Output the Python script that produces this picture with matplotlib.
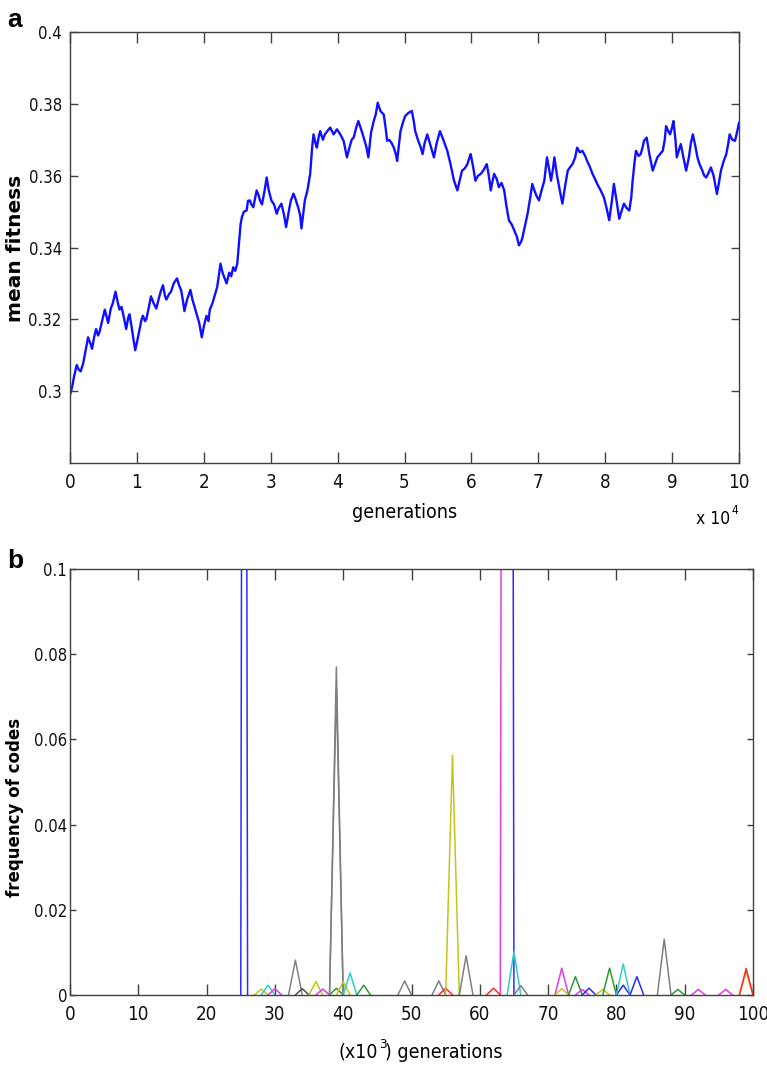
import numpy as np
import matplotlib
matplotlib.use("Agg")
import matplotlib.pyplot as plt
from matplotlib import font_manager as fm

# ---------------- data: panel a (mean fitness) ----------------
gen_e4 = [0.00, 0.03, 0.06, 0.10, 0.13, 0.16, 0.20, 0.24, 0.27, 0.30, 0.33, 0.36, 0.39, 0.42, 0.44,
          0.48, 0.52, 0.55, 0.57, 0.61, 0.64, 0.68, 0.71, 0.74, 0.77, 0.80, 0.84, 0.87, 0.89, 0.92,
          0.94, 0.975, 1.00, 1.04, 1.07, 1.09, 1.12, 1.14, 1.18, 1.21, 1.25, 1.29, 1.33, 1.36, 1.39,
          1.42, 1.44, 1.48, 1.51, 1.55, 1.60, 1.63, 1.66, 1.69, 1.71, 1.75, 1.80, 1.83, 1.86, 1.90,
          1.93, 1.97, 2.00, 2.04, 2.07, 2.09, 2.13, 2.16, 2.20, 2.25, 2.28, 2.31, 2.34, 2.38, 2.41,
          2.44, 2.47, 2.50, 2.53, 2.55, 2.57, 2.60, 2.64, 2.66, 2.69, 2.71, 2.74, 2.77, 2.79, 2.82,
          2.84, 2.87, 2.91, 2.94, 2.97, 3.01, 3.05, 3.09, 3.12, 3.16, 3.20, 3.23, 3.27, 3.30, 3.34,
          3.37, 3.41, 3.44, 3.46, 3.49, 3.51, 3.55, 3.59, 3.62, 3.64, 3.67, 3.69, 3.72, 3.74, 3.78,
          3.81, 3.85, 3.89, 3.94, 3.99, 4.04, 4.09, 4.12, 4.14, 4.18, 4.21, 4.24, 4.28, 4.31, 4.35,
          4.39, 4.43, 4.46, 4.50, 4.54, 4.57, 4.60, 4.64, 4.69, 4.72, 4.74, 4.77, 4.81, 4.84, 4.87,
          4.89, 4.92, 4.94, 4.98, 5.01, 5.06, 5.11, 5.14, 5.16, 5.20, 5.24, 5.27, 5.30, 5.34, 5.38,
          5.41, 5.44, 5.48, 5.53, 5.58, 5.64, 5.69, 5.74, 5.77, 5.79, 5.83, 5.86, 5.90, 5.94, 5.97,
          5.99, 6.03, 6.06, 6.10, 6.14, 6.18, 6.23, 6.26, 6.29, 6.31, 6.34, 6.38, 6.41, 6.45, 6.49,
          6.52, 6.56, 6.60, 6.64, 6.68, 6.71, 6.74, 6.76, 6.80, 6.84, 6.88, 6.91, 6.94, 6.97, 7.01,
          7.05, 7.09, 7.13, 7.16, 7.19, 7.22, 7.24, 7.28, 7.32, 7.36, 7.40, 7.44, 7.48, 7.51, 7.55,
          7.58, 7.62, 7.66, 7.70, 7.73, 7.77, 7.81, 7.85, 7.88, 7.93, 7.98, 8.02, 8.06, 8.10, 8.13,
          8.17, 8.21, 8.25, 8.28, 8.32, 8.36, 8.39, 8.41, 8.44, 8.46, 8.50, 8.53, 8.56, 8.58, 8.62,
          8.66, 8.71, 8.75, 8.78, 8.82, 8.86, 8.89, 8.91, 8.94, 8.97, 9.00, 9.02, 9.05, 9.07, 9.10,
          9.13, 9.17, 9.21, 9.25, 9.28, 9.31, 9.35, 9.38, 9.41, 9.45, 9.48, 9.51, 9.55, 9.58, 9.62,
          9.67, 9.70, 9.73, 9.77, 9.81, 9.84, 9.86, 9.90, 9.94, 9.97, 10.00]
mean_fitness = [0.2990, 0.3010, 0.3040, 0.3073, 0.3060, 0.3055, 0.3080, 0.3120, 0.3150, 0.3135, 0.3118, 0.3150, 0.3173, 0.3155, 0.3164,
                0.3195, 0.3227, 0.3205, 0.3190, 0.3230, 0.3245, 0.3277, 0.3250, 0.3227, 0.3235, 0.3210, 0.3173, 0.3205, 0.3214, 0.3180,
                0.3155, 0.3114, 0.3135, 0.3173, 0.3200, 0.3210, 0.3195, 0.3200, 0.3235, 0.3264, 0.3245, 0.3230, 0.3260, 0.3280, 0.3295,
                0.3265, 0.3255, 0.3270, 0.3277, 0.3300, 0.3314, 0.3295, 0.3282, 0.3250, 0.3223, 0.3255, 0.3282, 0.3255, 0.3236, 0.3210,
                0.3191, 0.3150, 0.3180, 0.3210, 0.3195, 0.3227, 0.3245, 0.3264, 0.3290, 0.3355, 0.3330, 0.3315, 0.3300, 0.3330, 0.3320,
                0.3345, 0.3335, 0.3355, 0.3420, 0.3465, 0.3485, 0.3500, 0.3503, 0.3530, 0.3531, 0.3520, 0.3512, 0.3540, 0.3559, 0.3545,
                0.3531, 0.3520, 0.3560, 0.3595, 0.3560, 0.3531, 0.3520, 0.3494, 0.3510, 0.3522, 0.3490, 0.3457, 0.3500, 0.3530, 0.3550,
                0.3535, 0.3512, 0.3490, 0.3453, 0.3500, 0.3531, 0.3560, 0.3605, 0.3680, 0.3715, 0.3690, 0.3678, 0.3710, 0.3724, 0.3700,
                0.3715, 0.3725, 0.3734, 0.3715, 0.3729, 0.3715, 0.3697, 0.3670, 0.3651, 0.3680, 0.3700, 0.3706, 0.3735, 0.3752, 0.3730,
                0.3706, 0.3680, 0.3651, 0.3720, 0.3752, 0.3770, 0.3803, 0.3780, 0.3770, 0.3730, 0.3697, 0.3700, 0.3690, 0.3678, 0.3660,
                0.3641, 0.3690, 0.3724, 0.3750, 0.3766, 0.3775, 0.3780, 0.3750, 0.3724, 0.3700, 0.3680, 0.3660, 0.3690, 0.3715, 0.3690,
                0.3670, 0.3651, 0.3690, 0.3724, 0.3700, 0.3669, 0.3630, 0.3586, 0.3570, 0.3559, 0.3590, 0.3614, 0.3620, 0.3632, 0.3650,
                0.3660, 0.3620, 0.3586, 0.3600, 0.3605, 0.3615, 0.3632, 0.3600, 0.3559, 0.3580, 0.3605, 0.3590, 0.3568, 0.3580, 0.3559,
                0.3520, 0.3476, 0.3465, 0.3448, 0.3430, 0.3406, 0.3415, 0.3425, 0.3460, 0.3494, 0.3540, 0.3577, 0.3560, 0.3545, 0.3531,
                0.3560, 0.3586, 0.3651, 0.3620, 0.3586, 0.3620, 0.3651, 0.3600, 0.3560, 0.3522, 0.3570, 0.3614, 0.3625, 0.3632, 0.3650,
                0.3678, 0.3665, 0.3669, 0.3655, 0.3641, 0.3625, 0.3605, 0.3590, 0.3577, 0.3560, 0.3540, 0.3510, 0.3476, 0.3530, 0.3577,
                0.3530, 0.3480, 0.3505, 0.3522, 0.3510, 0.3503, 0.3540, 0.3586, 0.3640, 0.3669, 0.3655, 0.3660, 0.3680, 0.3697, 0.3706,
                0.3660, 0.3614, 0.3635, 0.3651, 0.3660, 0.3669, 0.3700, 0.3738, 0.3725, 0.3715, 0.3735, 0.3752, 0.3700, 0.3651, 0.3670,
                0.3688, 0.3650, 0.3614, 0.3650, 0.3690, 0.3715, 0.3680, 0.3650, 0.3632, 0.3615, 0.3600, 0.3595, 0.3610, 0.3623, 0.3600,
                0.3549, 0.3580, 0.3614, 0.3640, 0.3660, 0.3690, 0.3715, 0.3700, 0.3697, 0.3720, 0.3747]

top_xticks = [0, 1, 2, 3, 4, 5, 6, 7, 8, 9, 10]
top_yticks = [0.30, 0.32, 0.34, 0.36, 0.38, 0.40]
top_ylabels = ["0.3", "0.32", "0.34", "0.36", "0.38", "0.4"]

# ---------------- data: panel b (frequency of codes) ----------------
gens_k = list(range(0, 101))  # (x10^3) generations
# codes that dominate (frequency far above the plotted range)
dom_colors = ["blue", "blue", "magenta"]
dom_start = [0, 26, 64]
dom_end = [25, 64, 100]
dom_level = [0.95, 0.93, 0.92]
# minor codes: one peak each (generation, frequency)
peak_colors = ["yellow", "cyan", "magenta", "gray", "dark", "yellow", "magenta", "green",
               "gray", "gray", "yellow", "cyan", "green", "gray", "gray", "red", "yellow",
               "gray", "red", "cyan", "gray", "magenta", "yellow", "green", "magenta", "blue",
               "yellow", "green", "blue", "cyan", "blue", "gray", "green", "magenta", "magenta",
               "yellow", "red"]
peak_gen = [28, 29, 30, 33, 34, 36, 37, 39, 39, 39, 40, 41, 43, 49, 54, 55, 56,
            58, 62, 65, 66, 72, 72, 74, 75, 76, 78, 79, 81, 81, 83, 87, 89, 92, 96,
            99, 99]
peak_freq = [0.0014, 0.0023, 0.0015, 0.0082, 0.0015, 0.0032, 0.0014, 0.0016, 0.0770, 0.0720,
             0.0031, 0.0052, 0.0023, 0.0033, 0.0033, 0.0016, 0.0563, 0.0092, 0.0016, 0.0102,
             0.0022, 0.0063, 0.0015, 0.0043, 0.0013, 0.0016, 0.0013, 0.0063, 0.0023, 0.0073,
             0.0043, 0.0131, 0.0013, 0.0013, 0.0013, 0.0055, 0.0062]

bot_xticks = [0, 10, 20, 30, 40, 50, 60, 70, 80, 90, 100]
bot_yticks = [0, 0.02, 0.04, 0.06, 0.08, 0.1]
bot_ylabels = ["0", "0.02", "0.04", "0.06", "0.08", "0.1"]

# ---------------- style ----------------
palette = {"blue": "#2b2bff", "magenta": "#e23ce2", "yellow": "#c4c41c", "cyan": "#30cccc",
           "green": "#2f9a2f", "red": "#ff2a2a", "gray": "#808080", "dark": "#505050"}
SPINE = "#404040"

# look for a narrow / condensed sans face (MATLAB-like tick labels)
narrow_file = None
_cands = []
for f in fm.fontManager.ttflist:
    fn = f.fname.lower()
    if ("narrow" in fn or "condensed" in fn) and not any(
            k in fn for k in ("bold", "italic", "oblique", "mono", "serif", "light", "thin")):
        _cands.append(f.fname)
_cands.sort(key=lambda p: (0 if "liberationsansnarrow" in p.lower().replace("-", "") else
                           1 if "dejavusanscondensed" in p.lower().replace("-", "") else 2))
if _cands:
    narrow_file = _cands[0]


def tickfont(size):
    if narrow_file:
        return fm.FontProperties(fname=narrow_file, size=size)
    return fm.FontProperties(family=["Liberation Sans", "DejaVu Sans"], size=size * 0.9)


W, H = 767, 1069
fig = plt.figure(figsize=(W / 100, H / 100), dpi=100)


def fx(px):
    return px / W


def fy(py):
    return 1 - py / H


def style_axes(ax, xlen, ylen, ypad, xpad, xfs, yfs):
    for s in ax.spines.values():
        s.set_color(SPINE)
        s.set_linewidth(1.0)
    ax.tick_params(axis="x", direction="in", top=True, bottom=True, length=xlen,
                   width=1.0, color=SPINE, pad=xpad, labelcolor="#111111")
    ax.tick_params(axis="y", direction="in", left=True, right=True, length=ylen,
                   width=1.0, color=SPINE, pad=ypad, labelcolor="#111111")
    for lab in ax.get_xticklabels():
        lab.set_fontproperties(tickfont(xfs))
    for lab in ax.get_yticklabels():
        lab.set_fontproperties(tickfont(yfs))


# ---- panel a ----
ax1 = fig.add_axes([fx(70), fy(463), fx(739) - fx(70), fy(32) - fy(463)])
ax1.plot(gen_e4, mean_fitness, color="#1010ff", lw=1.7)
ax1.set_xlim(0, 10)
ax1.set_ylim(0.28, 0.40)
ax1.set_xticks(top_xticks)
ax1.set_xticklabels([str(t) for t in top_xticks])
ax1.set_yticks(top_yticks)
ax1.set_yticklabels(top_ylabels)
style_axes(ax1, 8, 5.5, 6.0, 7.0, 13.5, 12)

# ---- panel b ----
ax2 = fig.add_axes([fx(70), fy(995), fx(753) - fx(70), fy(569) - fy(995)])
for c, s, e, lv in zip(dom_colors, dom_start, dom_end, dom_level):
    xs = [g for g in gens_k if s - 1 <= g <= e + 1]
    ys = [lv if s <= g <= e else 0.0 for g in xs]
    ax2.plot(xs, ys, color=palette[c], lw=1.1)
for c, g, f in zip(peak_colors, peak_gen, peak_freq):
    xs = [max(g - 1, 0), g, min(g + 1, 100)]
    ys = [0.0, f, 0.0]
    ax2.plot(xs, ys, color=palette[c], lw=1.1)
ax2.set_xlim(0, 100)
ax2.set_ylim(0, 0.1)
ax2.set_xticks(bot_xticks)
ax2.set_xticklabels([str(t) for t in bot_xticks])
ax2.set_yticks(bot_yticks)
ax2.set_yticklabels(bot_ylabels)
style_axes(ax2, 8, 4.5, 2.0, 7.0, 13.5, 12)

# ---- texts ----
fig.text(fx(7), fy(20), "a", fontsize=19, fontweight="bold", family="Liberation Sans",
         ha="left", va="center")
fig.text(fx(7), fy(561), "b", fontsize=19, fontweight="bold", family="Liberation Sans",
         ha="left", va="center")
fig.text(fx(16), fy(248), "mean fitness", rotation=90, fontsize=14.5, fontweight="bold",
         family="DejaVu Sans", ha="center", va="center")
fig.text(fx(15), fy(807), "frequency of codes", rotation=90, fontsize=12, fontweight="bold",
         family="DejaVu Sans", ha="center", va="center")
fig.text(fx(405), fy(513), "generations", fontproperties=tickfont(14),
         ha="center", va="center")
fig.text(fx(730), fy(519), "x 10", fontproperties=tickfont(12.5),
         ha="right", va="center")
fig.text(fx(731), fy(510), "4", fontproperties=tickfont(8.5),
         ha="left", va="center")
fig.text(fx(378), fy(1052), "(x10", fontproperties=tickfont(14),
         ha="right", va="center")
fig.text(fx(379), fy(1044), "3", fontproperties=tickfont(9.5),
         ha="left", va="center")
fig.text(fx(385), fy(1052), ") generations", fontproperties=tickfont(14),
         ha="left", va="center")

fig.savefig("out.png", dpi=100)
